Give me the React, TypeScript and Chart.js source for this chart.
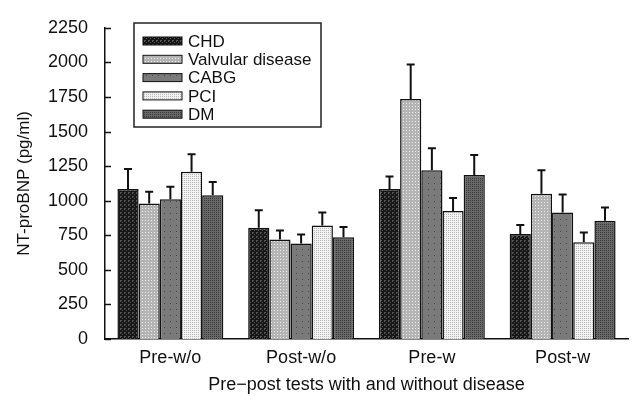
import React, { useEffect, useRef } from "react";
import { Chart, registerables } from "chart.js";

Chart.register(...registerables);

const categories = ["Pre-w/o", "Post-w/o", "Pre-w", "Post-w"];
const seriesNames = ["CHD", "Valvular disease", "CABG", "PCI", "DM"];
const chdValues = [1085, 805, 1085, 760];
const valvularValues = [980, 720, 1735, 1050];
const cabgValues = [1010, 690, 1220, 915];
const pciValues = [1210, 820, 925, 700];
const dmValues = [1040, 735, 1185, 855];
const chdErrors = [145, 125, 90, 65];
const valvularErrors = [85, 65, 250, 170];
const cabgErrors = [90, 65, 160, 130];
const pciErrors = [125, 95, 95, 70];
const dmErrors = [95, 75, 145, 95];
const yTicks = [0, 250, 500, 750, 1000, 1250, 1500, 1750, 2000, 2250];

const FONT = "'Liberation Sans', Arial, Helvetica, sans-serif";

type PatSpec = { bg: string; fg: string; size: number; pts: number[][] };

const patternSpecs: PatSpec[] = [
  { bg: "#161616", fg: "#555555", size: 4, pts: [[0, 0], [2, 2], [1, 0], [0, 1]] },
  { bg: "#b4b4b4", fg: "#ececec", size: 3, pts: [[1, 1]] },
  { bg: "#7a7a7a", fg: "#474747", size: 6, pts: [[2, 3]] },
  { bg: "#f2f2f2", fg: "#b8b8b8", size: 2, pts: [[0, 0]] },
  { bg: "#686868", fg: "#3a3a3a", size: 2, pts: [[0, 0]] },
];

function makePattern(ctx: CanvasRenderingContext2D, spec: PatSpec): CanvasPattern | string {
  const c = document.createElement("canvas");
  c.width = spec.size;
  c.height = spec.size;
  const p = c.getContext("2d");
  if (!p) return spec.bg;
  p.fillStyle = spec.bg;
  p.fillRect(0, 0, spec.size, spec.size);
  p.fillStyle = spec.fg;
  spec.pts.forEach(([x, y]) => p.fillRect(x, y, 1, 1));
  return ctx.createPattern(c, "repeat") || spec.bg;
}

const errorBarsPlugin = {
  id: "errorBars",
  afterDatasetsDraw(chart: any) {
    const ctx = chart.ctx;
    const y = chart.scales.y;
    ctx.save();
    ctx.strokeStyle = "#111";
    ctx.lineWidth = 2;
    chart.data.datasets.forEach((ds: any, i: number) => {
      const meta = chart.getDatasetMeta(i);
      meta.data.forEach((el: any, j: number) => {
        const v = ds.data[j];
        const e = ds.errors[j];
        const top = y.getPixelForValue(v + e);
        ctx.beginPath();
        ctx.moveTo(el.x, el.y);
        ctx.lineTo(el.x, top);
        ctx.moveTo(el.x - 4, top);
        ctx.lineTo(el.x + 4, top);
        ctx.stroke();
      });
    });
    ctx.restore();
  },
};

const innerTicksPlugin = {
  id: "innerTicks",
  afterDraw(chart: any) {
    const ctx = chart.ctx;
    const y = chart.scales.y;
    const left = chart.chartArea.left;
    ctx.save();
    ctx.strokeStyle = "#111";
    ctx.lineWidth = 1.5;
    yTicks.forEach((t) => {
      const py = Math.round(y.getPixelForValue(t)) + 0.5;
      ctx.beginPath();
      ctx.moveTo(left, py);
      ctx.lineTo(left + 6, py);
      ctx.stroke();
    });
    ctx.restore();
  },
};

const legendPlugin = {
  id: "boxLegend",
  afterDraw(chart: any) {
    const ctx = chart.ctx;
    const x0 = 134;
    const y0 = 23;
    const w = 187;
    const h = 104;
    ctx.save();
    ctx.fillStyle = "#ffffff";
    ctx.fillRect(x0, y0, w, h);
    ctx.strokeStyle = "#222";
    ctx.lineWidth = 1.5;
    ctx.strokeRect(x0, y0, w, h);
    ctx.font = "17px " + FONT;
    ctx.textBaseline = "middle";
    ctx.textAlign = "left";
    chart.data.datasets.forEach((ds: any, i: number) => {
      const cy = 41 + i * 18.3;
      ctx.fillStyle = ds.backgroundColor;
      ctx.fillRect(143, cy - 4, 39, 8);
      ctx.strokeStyle = "#111";
      ctx.lineWidth = 1;
      ctx.strokeRect(143, cy - 4, 39, 8);
      ctx.fillStyle = "#111";
      ctx.fillText(ds.label, 188, cy + 1);
    });
    ctx.restore();
  },
};

export default function App() {
  const ref = useRef<HTMLCanvasElement | null>(null);

  useEffect(() => {
    const canvas = ref.current;
    if (!canvas) return;
    const ctx = canvas.getContext("2d");
    if (!ctx) return;
    const values = [chdValues, valvularValues, cabgValues, pciValues, dmValues];
    const errors = [chdErrors, valvularErrors, cabgErrors, pciErrors, dmErrors];
    const datasets = seriesNames.map((name, i) => ({
      label: name,
      data: values[i],
      errors: errors[i],
      backgroundColor: makePattern(ctx, patternSpecs[i]),
      borderColor: "#111",
      borderWidth: 1.5,
      categoryPercentage: 0.81,
      barPercentage: 1.0,
    }));

    const chart = new Chart(canvas, {
      type: "bar",
      data: { labels: categories, datasets: datasets as any },
      options: {
        responsive: false,
        animation: false,
        layout: { padding: { left: 0, top: 18, right: 8, bottom: 0 } },
        plugins: {
          legend: { display: false },
          tooltip: { enabled: false },
        },
        scales: {
          x: {
            grid: { display: false, drawTicks: false },
            border: { display: true, color: "#111", width: 1.5 },
            ticks: {
              color: "#111",
              font: { family: FONT, size: 18 },
              padding: 8,
            },
            title: {
              display: true,
              text: "Pre\u2212post tests with and without disease",
              color: "#111",
              font: { family: FONT, size: 18 },
              padding: { top: 0, bottom: 8 },
            },
            afterFit: (s: any) => {
              s.height = 65;
            },
          },
          y: {
            min: 0,
            max: 2250,
            grid: { display: false, drawTicks: false },
            border: { display: true, color: "#111", width: 1.5 },
            afterBuildTicks: (s: any) => {
              s.ticks = yTicks.map((v) => ({ value: v }));
            },
            ticks: {
              color: "#111",
              font: { family: FONT, size: 18 },
              padding: 17,
              callback: (v: any) => String(v),
            },
            title: {
              display: true,
              text: "NT-proBNP (pg/ml)",
              color: "#111",
              font: { family: FONT, size: 17 },
              padding: { top: 14, bottom: 0 },
            },
            afterFit: (s: any) => {
              s.width = 105;
            },
          },
        },
      },
      plugins: [errorBarsPlugin, innerTicksPlugin, legendPlugin],
    });
    return () => chart.destroy();
  }, []);

  return (
    <div style={{ position: "absolute", left: 0, top: 0, width: 636, height: 404, background: "#fff" }}>
      <canvas ref={ref} width={636} height={404} style={{ display: "block" }} />
    </div>
  );
}
